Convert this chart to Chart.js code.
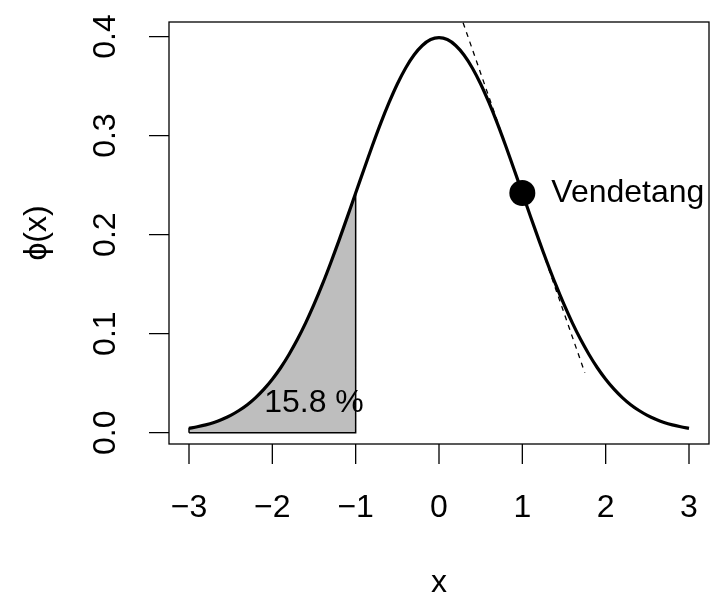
<!DOCTYPE html>
<html>
<head>
<meta charset="utf-8">
<script src="https://cdn.jsdelivr.net/npm/chart.js@4"></script>
<style>
  body { margin: 0; background: #fff; }
  canvas { display: block; }
</style>
</head>
<body>
<canvas id="densite" width="710" height="593"></canvas>
<script>
// valeurs : densite normale phi(x)
const xs = [-3.0, -2.9, -2.8, -2.7, -2.6, -2.5, -2.4, -2.3, -2.2, -2.1,
    -2.0, -1.9, -1.8, -1.7, -1.6, -1.5, -1.4, -1.3, -1.2, -1.1,
    -1.0, -0.9, -0.8, -0.7, -0.6, -0.5, -0.4, -0.3, -0.2, -0.1,
    0.0, 0.1, 0.2, 0.3, 0.4, 0.5, 0.6, 0.7, 0.8, 0.9,
    1.0, 1.1, 1.2, 1.3, 1.4, 1.5, 1.6, 1.7, 1.8, 1.9,
    2.0, 2.1, 2.2, 2.3, 2.4, 2.5, 2.6, 2.7, 2.8, 2.9, 3.0];
const phi = [0.0044, 0.0060, 0.0079, 0.0104, 0.0136, 0.0175, 0.0224, 0.0283, 0.0355, 0.0440,
    0.0540, 0.0656, 0.0790, 0.0940, 0.1109, 0.1295, 0.1497, 0.1714, 0.1942, 0.2179,
    0.2420, 0.2661, 0.2897, 0.3123, 0.3332, 0.3521, 0.3683, 0.3814, 0.3910, 0.3970,
    0.3989, 0.3970, 0.3910, 0.3814, 0.3683, 0.3521, 0.3332, 0.3123, 0.2897, 0.2661,
    0.2420, 0.2179, 0.1942, 0.1714, 0.1497, 0.1295, 0.1109, 0.0940, 0.0790, 0.0656,
    0.0540, 0.0440, 0.0355, 0.0283, 0.0224, 0.0175, 0.0136, 0.0104, 0.0079, 0.0060, 0.0044];
const shadeFrom = -3;
const shadeTo = -1;
const pointX = [1];
const pointY = [0.242];
const tangentX = [0.25, 1.75];
const tangentY = [0.4235, 0.0605];
const xTicks = [-3, -2, -1, 0, 1, 2, 3];
const xTickLabels = ["\u22123", "\u22122", "\u22121", "0", "1", "2", "3"];
const yTicks = [0, 0.1, 0.2, 0.3, 0.4];
const yTickLabels = ["0.0", "0.1", "0.2", "0.3", "0.4"];
const pointLabel = "Vendetang";
const areaLabel = "15.8 %";
const xTitle = "x";
const yTitle = "\u03d5(x)";

const FONT = '32px "Liberation Sans", Arial, sans-serif';

// courbe
const curve = xs.map((x, i) => ({ x: x, y: phi[i] }));

// partie grisee entre -3 et -1
const area = [];
xs.forEach((x, i) => {
    if (x >= shadeFrom - 1e-9 && x <= shadeTo + 1e-9) area.push({ x: x, y: phi[i] });
});
// contour du polygone
const outline = [{ x: shadeFrom, y: 0 }, ...area, { x: shadeTo, y: 0 }, { x: shadeFrom, y: 0 }];

// axes, cadre et textes facon R
const decor = {
    id: 'decor',
    afterDatasetsDraw(chart) {
        const c = chart.ctx;
        const a = chart.chartArea;
        const sx = chart.scales.x;
        const sy = chart.scales.y;
        c.save();
        c.strokeStyle = '#000';
        c.fillStyle = '#000';
        c.lineWidth = 1.3;
        c.strokeRect(a.left, a.top, a.right - a.left, a.bottom - a.top);

        c.font = FONT;
        c.textAlign = 'center';
        c.textBaseline = 'middle';
        // axe x
        c.beginPath();
        xTicks.forEach((t) => {
            const px = sx.getPixelForValue(t);
            c.moveTo(px, a.bottom);
            c.lineTo(px, a.bottom + 20);
        });
        c.stroke();
        xTicks.forEach((t, i) => {
            c.fillText(xTickLabels[i], sx.getPixelForValue(t), 508);
        });
        // axe y
        c.beginPath();
        yTicks.forEach((t) => {
            const py = sy.getPixelForValue(t);
            c.moveTo(a.left, py);
            c.lineTo(a.left - 20, py);
        });
        c.stroke();
        yTicks.forEach((t, i) => {
            c.save();
            c.translate(106, sy.getPixelForValue(t));
            c.rotate(-Math.PI / 2);
            c.fillText(yTickLabels[i], 0, 0);
            c.restore();
        });
        // titres
        c.fillText(xTitle, (a.left + a.right) / 2, 583);
        c.save();
        c.translate(37, (a.top + a.bottom) / 2);
        c.rotate(-Math.PI / 2);
        c.fillText(yTitle, 0, 0);
        c.restore();
        // annotations
        c.fillText(areaLabel, sx.getPixelForValue(-1.5), sy.getPixelForValue(0.03));
        c.textAlign = 'left';
        c.fillText(pointLabel, sx.getPixelForValue(pointX[0]) + 29, sy.getPixelForValue(pointY[0]));
        c.restore();
    }
};

new Chart(document.getElementById('densite'), {
    type: 'line',
    data: {
        datasets: [
            {
                data: pointX.map((x, i) => ({ x: x, y: pointY[i] })),
                showLine: false,
                pointRadius: 13,
                pointBackgroundColor: '#000',
                pointBorderColor: '#000',
                pointBorderWidth: 0,
                clip: false,
                order: 1,
            },
            {
                data: tangentX.map((x, i) => ({ x: x, y: tangentY[i] })),
                borderColor: '#000',
                borderWidth: 1.3,
                borderDash: [5, 5],
                pointRadius: 0,
                clip: 0,
                order: 2,
            },
            {
                data: curve,
                borderColor: '#000',
                borderWidth: 3.2,
                pointRadius: 0,
                tension: 0.3,
                clip: 0,
                order: 3,
            },
            {
                data: outline,
                borderColor: '#000',
                borderWidth: 1.5,
                pointRadius: 0,
                fill: false,
                order: 4,
            },
            {
                data: area,
                borderWidth: 0,
                borderColor: 'rgba(0,0,0,0)',
                backgroundColor: '#bebebe',
                fill: 'origin',
                pointRadius: 0,
                order: 5,
            },
        ]
    },
    options: {
        responsive: false,
        animation: false,
        layout: {
            autoPadding: false,
            padding: { left: 169, top: 22, right: 1, bottom: 149 },
        },
        scales: {
            x: { type: 'linear', min: -3.24, max: 3.24, display: false },
            y: { type: 'linear', min: -0.0114, max: 0.4147, display: false },
        },
        plugins: {
            legend: { display: false },
            tooltip: { enabled: false },
            filler: { propagate: false },
        }
    },
    plugins: [decor]
});
</script>
</body>
</html>
